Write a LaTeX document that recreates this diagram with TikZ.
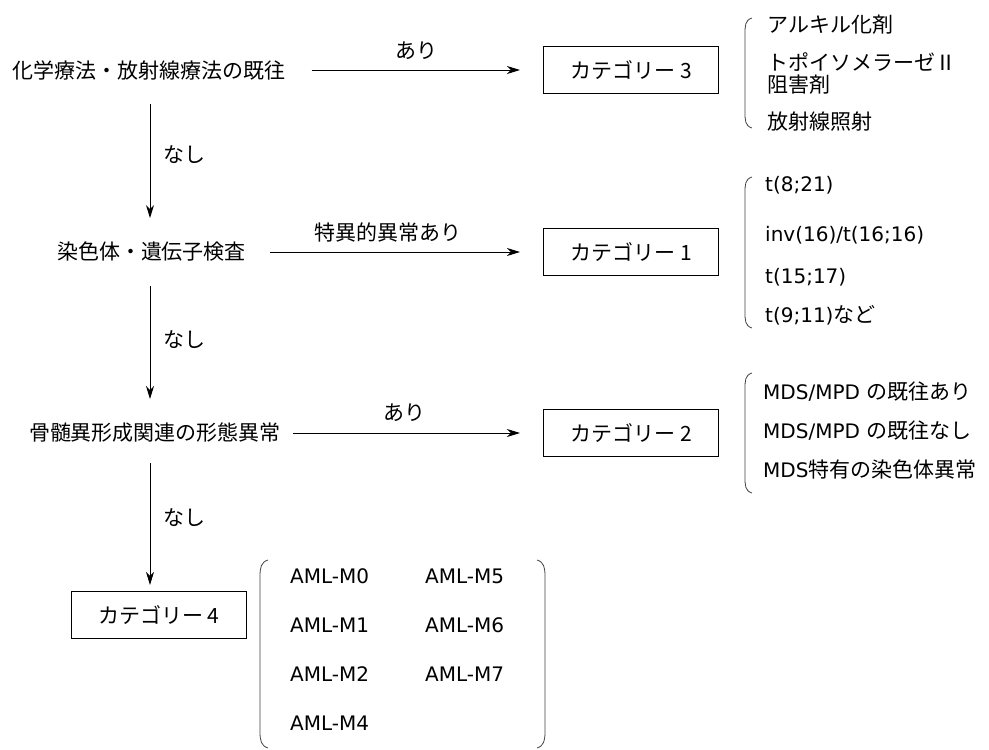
\documentclass[tikz,border=0pt]{standalone}
\usepackage{fontspec}
\setmainfont{DejaVu Sans}
\newfontfamily\jp{Noto Sans CJK JP}
\usetikzlibrary{arrows.meta}
\begin{document}
\begin{tikzpicture}[x=1pt,y=-1pt,
  every node/.style={inner sep=0pt, font=\fontsize{20}{23}\selectfont},
  lab/.style={font=\jp\fontsize{21}{24}\selectfont},
  item/.style={anchor=west, font=\fontsize{20}{23}\selectfont},
  cat/.style={draw, line width=1.1pt, minimum width=175pt, minimum height=47pt, font=\jp\fontsize{21}{24}\selectfont},
  arr/.style={-{Stealth[length=13pt,width=8pt,inset=4pt]}, line width=0.9pt},
  brace/.style={line width=0.8pt, draw=black!75}
]
\useasboundingbox (0,0) rectangle (989,750);

% questions
\node[lab] (q1) at (149,70) {化学療法・放射線療法の既往};
\node[lab] (q2) at (151.5,252) {染色体・遺伝子検査};
\node[lab] (q3) at (155,433) {骨髄異形成関連の形態異常};

% categories
\node[cat, anchor=west] (c3) at (543,70) {カテゴリー 3};
\node[cat, anchor=west] (c1) at (543,252) {カテゴリー 1};
\node[cat, anchor=west] (c2) at (543,433) {カテゴリー 2};
\node[cat, anchor=east] (c4) at (247,615) {カテゴリー 4};

% horizontal arrows and labels
\draw[arr, shorten <=26pt, shorten >=23pt] (q1.east) -- (c3.west);
\draw[arr, shorten <=24pt, shorten >=23pt] (q2.east) -- (c1.west);
\draw[arr, shorten <=12pt, shorten >=23pt] (q3.east) -- (c2.west);
\node[lab] (l1) at (416,51) {あり};
\node[lab] (l2) at (388,232) {特異的異常あり};
\node[lab] (l3) at (404,413) {あり};

% vertical arrows and labels
\draw[arr, shorten <=24pt, shorten >=24pt] (q1.south -| 150,0) -- (q2.north -| 150,0);
\draw[arr, shorten <=24pt, shorten >=24pt] (q2.south -| 150,0) -- (q3.north -| 150,0);
\draw[arr, shorten <=20pt, shorten >=6pt] (q3.south -| 150,0) -- (c4.north -| 150,0);
\node[lab, anchor=west] (n1) at (163,155) {なし};
\node[lab, anchor=west] (n2) at (163,340) {なし};
\node[lab, anchor=west] (n3) at (163,518) {なし};

% category 3 items
\draw[brace] (752,18) .. controls (745,20) and (745,26) .. (745,34) -- (745,112) .. controls (745,120) and (745,126) .. (752,128);
\node[item] (a1) at (767,25) {\jp\fontsize{21}{24}\selectfont アルキル化剤};
\node[item] (a2) at (767,62) {\jp\fontsize{21}{24}\selectfont トポイソメラーゼⅡ};
\node[item] (a3) at (767,85) {\jp\fontsize{21}{24}\selectfont 阻害剤};
\node[item] (a4) at (767,122) {\jp\fontsize{21}{24}\selectfont 放射線照射};

% category 1 items
\draw[brace] (752,177) .. controls (745,179) and (745,185) .. (745,193) -- (745,312) .. controls (745,320) and (745,326) .. (752,328);
\node[item] (b1) at (765,185) {t(8;21)};
\node[item] (b2) at (765,235) {inv(16)/t(16;16)};
\node[item] (b3) at (765,277) {t(15;17)};
\node[item] (b4) at (765,315) {t(9;11)\jp\fontsize{21}{24}\selectfont など};

% category 2 items
\draw[brace] (752,373) .. controls (745,375) and (745,381) .. (745,389) -- (745,477) .. controls (745,485) and (745,491) .. (752,493);
\node[item] (d1) at (763,392) {MDS/MPD \jp\fontsize{21}{24}\selectfont の既往あり};
\node[item] (d2) at (763,431) {MDS/MPD \jp\fontsize{21}{24}\selectfont の既往なし};
\node[item] (d3) at (763,470) {MDS\jp\fontsize{21}{24}\selectfont 特有の染色体異常};

% category 4 items
\draw[brace] (268,560) .. controls (261,562) and (260,568) .. (260,576) -- (260,732) .. controls (260,740) and (261,746) .. (268,748);
\draw[brace] (537,560) .. controls (544,562) and (545,568) .. (545,576) -- (545,732) .. controls (545,740) and (544,746) .. (537,748);
\node[item] (m0) at (290,576) {AML-M0};
\node[item] (m1) at (290,625) {AML-M1};
\node[item] (m2) at (290,674) {AML-M2};
\node[item] (m4) at (290,723) {AML-M4};
\node[item] (m5) at (425,576) {AML-M5};
\node[item] (m6) at (425,625) {AML-M6};
\node[item] (m7) at (425,674) {AML-M7};
\end{tikzpicture}
\end{document}
